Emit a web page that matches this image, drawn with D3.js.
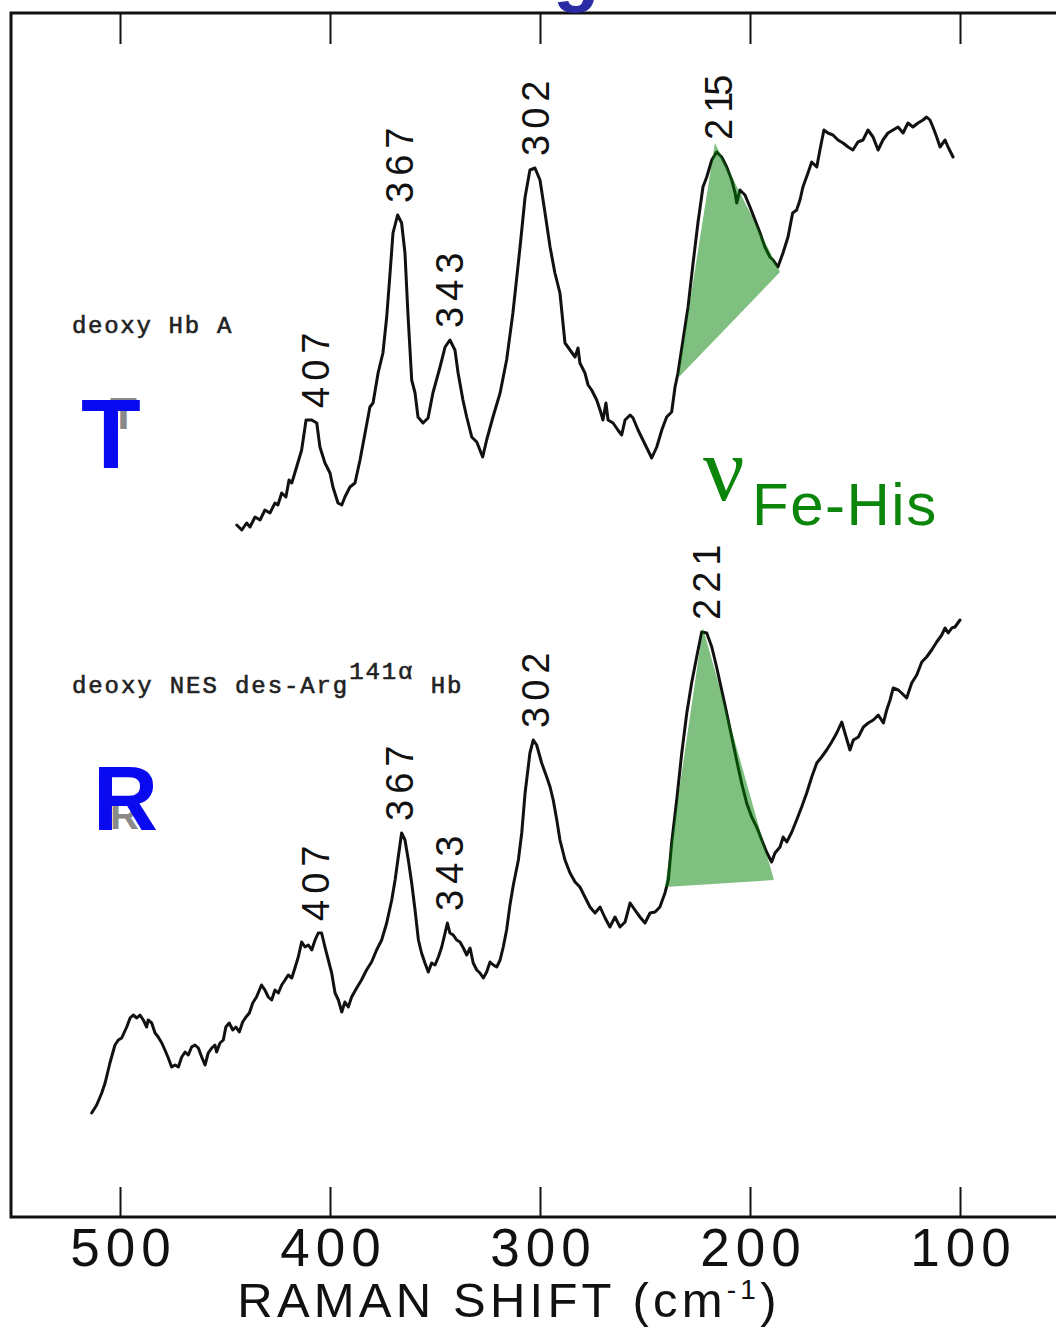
<!DOCTYPE html>
<html>
<head>
<meta charset="utf-8">
<script src="https://cdn.jsdelivr.net/npm/d3@7"></script>
<style>
  body { margin: 0; background: #fff; }
  svg { display: block; }
</style>
</head>
<body>
<svg id="chart" width="1056" height="1329"></svg>
<script>
// Resonance Raman spectra of deoxy Hb A (T state) and deoxy NES des-Arg141α Hb (R state)

// Raman shift axis
const axisTicks = [500, 400, 300, 200, 100];

// deoxy Hb A — Raman shift (cm-1) and intensity (arb. units, offset trace)
const tShift = [444.4,442.0,439.7,438.1,435.7,433.3,431.0,428.6,426.2,424.8,
  423.0,421.0,419.5,418.2,415.9,413.5,411.4,408.7,406.3,404.8,
  402.4,400.0,398.6,396.2,394.4,392.9,390.5,388.1,385.7,383.3,
  381.0,379.5,377.1,374.8,373.0,371.4,370.0,367.8,365.9,364.3,
  362.9,361.1,359.5,358.1,355.7,353.3,351.0,347.6,345.2,342.9,
  340.5,339.0,336.7,334.9,332.5,330.1,327.3,325.4,322.4,319.0,
  315.9,312.9,309.5,307.1,304.8,302.4,300.0,297.6,295.2,292.9,
  290.5,288.1,285.7,283.3,281.9,281.0,278.6,277.1,275.4,273.0,
  271.4,270.0,268.6,267.6,265.2,262.9,261.1,259.5,257.1,255.7,
  253.3,251.0,246.8,244.4,242.0,239.7,237.3,235.7,234.3,231.9,
  229.5,227.1,224.8,222.4,220.6,218.2,215.9,213.5,211.1,208.7,
  207.1,206.3,204.8,202.4,200.0,197.6,195.2,192.9,190.5,189.0,
  186.7,184.3,181.9,179.7,177.8,176.2,174.8,172.4,170.6,168.2,
  166.7,164.8,162.9,160.5,158.1,155.7,153.3,151.0,148.6,146.2,
  143.8,141.4,139.0,136.7,134.3,131.9,129.5,127.1,124.8,122.4,
  120.0,117.6,115.9,114.3,112.9,111.1,109.5,107.1,105.7,103.3];
const tCounts = [692,687,694,690,700,697,707,704,714,712,
  724,720,737,734,750,767,797,797,794,770,
  754,744,730,714,712,720,730,734,757,784,
  810,814,844,864,900,944,984,1002,994,964,
  904,837,824,800,794,799,824,850,870,877,
  867,844,817,800,780,775,760,777,800,824,
  857,904,970,1020,1047,1049,1037,1004,970,944,
  924,874,867,860,869,854,844,832,827,817,
  807,797,814,797,794,787,782,797,802,799,
  787,777,759,770,787,800,805,830,844,877,
  910,954,994,1030,1040,1057,1065,1060,1050,1037,
  1024,1014,1027,1022,1010,997,984,970,960,957,
  950,964,980,1004,1007,1017,1030,1044,1055,1050,
  1067,1087,1084,1082,1077,1074,1070,1067,1075,1077,
  1087,1080,1067,1077,1084,1087,1090,1084,1094,1090,
  1094,1097,1100,1097,1090,1080,1070,1077,1070,1060];

// deoxy NES des-Arg141α Hb — Raman shift (cm-1) and intensity (arb. units)
const rShift = [513.5,511.1,508.7,507.1,504.8,502.4,500.8,499.2,496.8,495.2,
  493.7,492.0,490.5,488.9,487.3,486.6,484.9,483.3,481.8,480.1,
  478.6,477.0,475.4,473.8,472.2,470.6,469.0,467.5,465.9,464.3,
  462.7,461.1,459.5,458.0,456.3,454.8,454.0,452.4,450.8,449.6,
  448.0,446.3,444.8,443.2,441.6,440.0,438.4,436.8,435.0,432.6,
  431.0,429.4,427.8,426.2,424.6,423.0,421.4,419.9,418.2,416.7,
  415.1,413.5,411.9,410.3,408.7,407.1,405.6,404.0,402.4,400.8,
  399.2,397.6,396.0,394.4,392.9,391.3,389.7,387.3,385.0,382.6,
  380.2,377.8,375.4,373.0,370.6,369.0,367.5,365.9,364.3,362.7,
  361.1,359.5,357.9,356.4,354.8,353.2,351.6,350.0,348.4,346.8,
  345.2,344.1,342.9,341.3,339.7,338.1,336.5,334.9,333.3,331.8,
  330.1,328.6,327.0,325.4,323.8,322.2,320.6,319.0,317.5,315.9,
  314.3,312.7,310.3,308.7,307.1,304.8,303.2,301.6,299.2,296.8,
  295.2,293.7,292.0,290.5,288.1,285.7,283.3,281.0,278.6,276.2,
  273.8,271.4,269.0,266.7,264.3,261.9,259.5,257.1,254.8,252.4,
  250.0,247.6,245.2,242.9,240.5,238.9,237.3,234.9,232.5,230.1,
  227.8,225.4,223.0,220.6,218.2,215.9,213.5,211.1,208.7,206.4,
  204.0,201.6,199.2,196.8,194.4,192.1,189.7,188.1,185.7,184.2,
  182.5,180.1,177.8,175.4,173.0,170.6,168.2,165.9,163.5,161.1,
  158.7,156.3,154.8,152.4,150.8,148.4,146.0,143.7,141.3,138.9,
  136.5,134.9,133.3,131.8,129.4,127.8,125.4,123.0,120.6,118.2,
  115.9,113.5,111.1,108.7,107.1,105.6,103.9,102.4,100.0];
const rCounts = [104,112,124,134,154,172,177,179,190,199,
  202,199,202,197,190,197,194,184,180,174,
  167,159,150,152,150,160,165,162,170,172,
  169,160,152,164,169,172,165,174,177,190,
  194,187,190,185,195,200,204,214,220,232,
  227,220,217,227,224,232,237,242,239,249,
  260,275,270,272,267,277,284,284,270,257,
  244,224,217,205,215,210,220,229,237,247,
  255,267,277,294,317,337,360,384,377,357,
  334,307,277,264,254,245,254,252,260,270,
  284,294,284,282,277,275,269,262,269,254,
  247,244,239,245,255,252,250,257,270,287,
  312,332,357,384,424,464,477,472,454,440,
  430,417,397,377,357,344,335,330,320,310,
  304,310,299,290,300,290,295,314,307,300,
  294,304,305,310,324,337,374,417,464,504,
  534,560,585,584,570,550,527,504,480,457,
  434,414,400,390,377,365,355,364,370,380,
  375,385,397,410,424,440,454,460,467,475,
  484,495,484,467,477,480,490,494,497,502,
  494,507,517,529,527,524,519,534,542,555,
  560,567,575,582,589,584,589,590,597];

// Labelled band positions (cm-1)
const tPeaks = [407, 367, 343, 302, 215];
const rPeaks = [407, 367, 343, 302, 221];

// Fe–His stretching band outline: [shift, intensity] corners
const tBand = [[234.3, 839], [216.7, 1074], [185.7, 945]];
const rBand = [[240.5, 330], [222.4, 589], [188.6, 337]];

const svg = d3.select("#chart");
const W = 1056;

const x = d3.scaleLinear().domain([500, 100]).range([120, 960]);
const y = d3.scaleLinear().domain([0, 1204]).range([1217, 13]);

const ink = "#111";
const sans = "'Liberation Sans', Arial, sans-serif";
const mono = "'Liberation Mono', 'Courier New', monospace";

// Lettering-guide style numerals: the "1" is a bare stroke, so close up the gap after it
function setNumerals(sel, str, tighten) {
  sel.text(null);
  const chars = String(str).split("");
  chars.forEach((c, i) => {
    const t = sel.append("tspan").text(c);
    if (i > 0 && chars[i - 1] === "1") t.attr("dx", -tighten);
  });
}

// --- frame ---
const xLeft = 11;
svg.append("path")
  .attr("d", `M${W},${y(1204)} L${xLeft},${y(1204)} L${xLeft},${y(0)} L${W},${y(0)}`)
  .attr("fill", "none").attr("stroke", ink).attr("stroke-width", 3);

// bottom axis: ticks pointing inward, labels below
const gBottom = svg.append("g")
  .attr("transform", `translate(0,${y(0)})`)
  .call(d3.axisBottom(x).tickValues(axisTicks).tickSize(-30).tickPadding(11)
        .tickFormat(d3.format("d")));
gBottom.select(".domain").remove();
gBottom.selectAll(".tick line").attr("stroke", ink).attr("stroke-width", 2);
gBottom.selectAll(".tick text")
  .attr("fill", ink).attr("font-family", sans).attr("font-size", 53)
  .attr("letter-spacing", 6).attr("dx", 3);

// top axis: ticks only
const gTop = svg.append("g")
  .attr("transform", `translate(0,${y(1204)})`)
  .call(d3.axisTop(x).tickValues(axisTicks).tickSize(-31).tickFormat(() => ""));
gTop.select(".domain").remove();
gTop.selectAll(".tick line").attr("stroke", ink).attr("stroke-width", 2);

// axis title
const title = svg.append("text")
  .attr("x", 509).attr("y", 1317)
  .attr("text-anchor", "middle")
  .attr("font-family", sans).attr("font-size", 49)
  .attr("letter-spacing", 4.2).attr("fill", ink);
title.append("tspan").text("RAMAN SHIFT (cm");
title.append("tspan").attr("dy", -18).attr("font-size", 28).text("-1");
title.append("tspan").attr("dy", 18).text(")");

// --- spectra ---
const line = d3.line().x(d => x(d[0])).y(d => y(d[1]));
const tData = tShift.map((s, i) => [s, tCounts[i]]);
const rData = rShift.map((s, i) => [s, rCounts[i]]);

[tData, rData].forEach(data => {
  svg.append("path")
    .datum(data)
    .attr("d", line)
    .attr("fill", "none")
    .attr("stroke", ink)
    .attr("stroke-width", 3)
    .attr("stroke-linejoin", "round")
    .attr("stroke-linecap", "round");
});

// Fe–His band highlight
[tBand, rBand].forEach(band => {
  svg.append("path")
    .attr("d", d3.line().x(d => x(d[0])).y(d => y(d[1]))(band) + "Z")
    .attr("fill", "rgb(0,128,0)")
    .attr("fill-opacity", 0.5)
    .attr("stroke", "none");
});

// --- peak labels, rotated, sitting just above each band maximum ---
function peakLabels(peaks, data) {
  peaks.forEach(p => {
    const near = data.filter(d => Math.abs(d[0] - p) <= 6);
    const top = d3.max(near, d => d[1]) + 12;
    const t = svg.append("text")
      .attr("transform", `translate(${x(p)},${y(top)}) rotate(-90)`)
      .attr("dy", "0.36em")
      .attr("font-family", sans).attr("font-size", 38)
      .attr("letter-spacing", 6)
      .attr("fill", ink);
    setNumerals(t, p, 10);
  });
}
peakLabels(tPeaks, tData);
peakLabels(rPeaks, rData);

// --- sample names ---
svg.append("text")
  .attr("x", 72).attr("y", 333)
  .attr("font-family", mono).attr("font-size", 24)
  .attr("letter-spacing", 1.7)
  .attr("fill", "#222").attr("stroke", "#222").attr("stroke-width", 0.6)
  .text("deoxy Hb A");

const nes = svg.append("text")
  .attr("x", 72).attr("y", 693)
  .attr("font-family", mono).attr("font-size", 24)
  .attr("letter-spacing", 1.9)
  .attr("fill", "#222").attr("stroke", "#222").attr("stroke-width", 0.6);
nes.append("tspan").text("deoxy NES des-Arg");
nes.append("tspan").attr("dy", -14).text("141α");
nes.append("tspan").attr("dy", 14).text(" Hb");

// --- quaternary state letters ---
svg.append("text").attr("x", 110).attr("y", 429)
  .attr("font-family", sans).attr("font-weight", "bold").attr("font-size", 44)
  .attr("fill", "#8a8a8a").text("T");
svg.append("text").attr("x", 81).attr("y", 468)
  .attr("font-family", sans).attr("font-weight", "bold").attr("font-size", 98)
  .attr("fill", "#0a0af0").text("T");

svg.append("text").attr("x", 110).attr("y", 829)
  .attr("font-family", sans).attr("font-weight", "bold").attr("font-size", 40)
  .attr("fill", "#8a8a8a").text("R");
svg.append("text").attr("x", 93).attr("y", 830)
  .attr("font-family", sans).attr("font-weight", "bold").attr("font-size", 90)
  .attr("fill", "#0a0af0").text("R");

// --- band assignment ---
const green = "#0b860b";
svg.append("text").attr("x", 703).attr("y", 500)
  .attr("font-family", "'Liberation Serif', 'Times New Roman', serif")
  .attr("font-size", 92).attr("fill", green).text("ν");
svg.append("text").attr("x", 752).attr("y", 525)
  .attr("font-family", sans).attr("font-size", 60)
  .attr("letter-spacing", 1.5).attr("fill", green).text("Fe-His");

// heading glyph cut by the top edge of the page
svg.append("text").attr("x", 553).attr("y", -3)
  .attr("font-family", sans).attr("font-weight", "bold").attr("font-size", 76)
  .attr("fill", "#2b2ba6").text("g");
</script>
</body>
</html>
